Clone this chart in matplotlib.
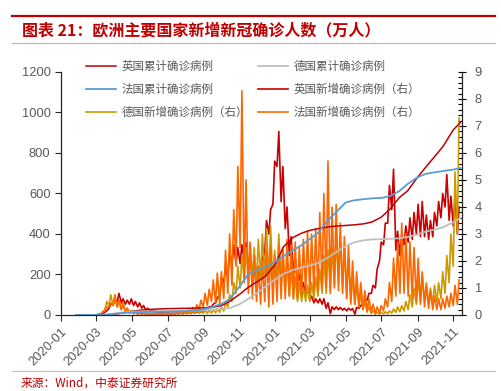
import numpy as np
import pandas as pd
import matplotlib
matplotlib.use("Agg")
import matplotlib.pyplot as plt
import matplotlib.dates as mdates
from matplotlib.lines import Line2D
from matplotlib.ticker import MultipleLocator

plt.rcParams['font.family'] = ['Liberation Sans', 'Noto Sans CJK SC', 'DejaVu Sans']

# 累计确诊（万人），左轴
cum_dates = ([pd.Timestamp('2020-01-27')]
             + list(pd.date_range('2020-02-01', '2021-11-01', freq='SMS'))
             + [pd.Timestamp('2021-11-13')])
uk_cum = [0, 0, 0.001, 0.003, 0.11, 2.9, 9.9, 17.8, 23.5, 27.6,
          29.6, 31.3, 32, 33, 34, 35, 38, 46, 67, 102,
          135, 164, 191, 250, 337, 384, 404, 418, 426, 435,
          439, 442, 445, 450, 459, 483, 520, 580, 613, 680,
          730, 785, 834, 914, 950]
de_cum = [0, 0.0008, 0.0016, 0.013, 0.5, 7.2, 13, 16.3, 17.4, 18.3,
          18.8, 19.5, 20.1, 21.1, 22.4, 24.5, 26.3, 29.2, 34.1, 53.2,
          78, 108, 140, 176, 203, 223, 235, 245, 256, 284,
          310, 340, 358, 369, 373, 374, 376, 379, 385, 397,
          412, 422, 434, 458, 478]
fr_cum = [0, 0.0006, 0.0012, 0.013, 0.45, 5.2, 10.3, 12.9, 14.0, 15.1,
          15.8, 16.5, 17.3, 18.8, 21.5, 28.5, 38.7, 55, 78, 141,
          198, 222, 238, 262, 291, 320, 345, 375, 405, 468,
          508, 555, 566, 572, 576, 578, 586, 612, 647, 680,
          697, 705, 711, 718, 726]

# 新增确诊（万人），右轴：每周一（低点）与周四（高点）
week_start = pd.date_range('2020-01-27', periods=94, freq='7D')
uk_new_lo = [0, 0, 0, 0, 0.001, 0.005, 0.03, 0.1, 0.25, 0.4,
             0.5, 0.45, 0.4, 0.4, 0.35, 0.3, 0.25, 0.18, 0.15, 0.1,
             0.09, 0.08, 0.06, 0.05, 0.05, 0.06, 0.06, 0.07, 0.08, 0.08,
             0.09, 0.14, 0.22, 0.3, 0.45, 0.7, 1.2, 1.5, 1.9, 1.9,
             1.9, 2.0, 1.7, 1.3, 1.2, 1.4, 2.3, 3.0, 4.1, 5.5,
             4.2, 3.2, 2.2, 1.6, 1.2, 0.95, 0.7, 0.55, 0.45, 0.45,
             0.4, 0.25, 0.05, 0.2, 0.2, 0.18, 0.15, 0.18, 0.03, 0.25,
             0.4, 0.55, 0.8, 1.0, 2.0, 2.6, 3.4, 3.9, 2.4, 2.2,
             2.6, 2.7, 2.8, 3.0, 2.9, 2.9, 2.8, 2.9, 3.3, 3.6,
             4.0, 3.5, 3.3, 3.0]
uk_new_hi = [0, 0, 0, 0, 0.002, 0.01, 0.05, 0.15, 0.4, 0.55,
             0.8, 0.6, 0.55, 0.6, 0.5, 0.45, 0.35, 0.25, 0.2, 0.15,
             0.12, 0.1, 0.08, 0.07, 0.07, 0.08, 0.08, 0.09, 0.1, 0.11,
             0.12, 0.2, 0.3, 0.4, 0.65, 1.4, 1.7, 2.3, 2.6, 2.5,
             2.6, 2.7, 2.3, 1.7, 1.7, 2.1, 3.5, 3.9, 5.7, 6.8,
             5.5, 4.0, 2.9, 2.1, 1.5, 1.2, 1.0, 0.7, 0.6, 0.6,
             0.6, 0.45, 0.3, 0.3, 0.28, 0.25, 0.25, 0.24, 0.28, 0.35,
             0.6, 0.8, 1.1, 1.7, 2.7, 3.4, 4.8, 5.4, 3.1, 3.0,
             3.3, 3.6, 3.8, 4.1, 4.2, 3.7, 3.5, 3.8, 4.2, 4.5,
             5.2, 4.4, 4.4, 4.0]
de_new_lo = [0, 0, 0, 0, 0, 0.01, 0.05, 0.2, 0.35, 0.35,
             0.3, 0.2, 0.12, 0.07, 0.05, 0.03, 0.03, 0.03, 0.03, 0.03,
             0.03, 0.03, 0.03, 0.03, 0.03, 0.03, 0.03, 0.04, 0.05, 0.06,
             0.07, 0.06, 0.06, 0.07, 0.08, 0.1, 0.15, 0.3, 0.5, 0.8,
             1.0, 1.3, 1.2, 1.3, 1.2, 1.3, 1.4, 1.2, 1.0, 1.2,
             1.2, 0.8, 0.7, 0.6, 0.5, 0.5, 0.5, 0.5, 0.6, 0.7,
             0.8, 0.8, 0.9, 1.1, 1.2, 1.0, 0.7, 0.5, 0.4, 0.3,
             0.2, 0.1, 0.06, 0.04, 0.04, 0.04, 0.05, 0.07, 0.1, 0.12,
             0.15, 0.2, 0.3, 0.4, 0.5, 0.5, 0.4, 0.4, 0.5, 0.6,
             0.8, 1.2, 1.8, 3.0]
de_new_hi = [0, 0, 0, 0, 0.005, 0.03, 0.12, 0.5, 0.75, 0.6,
             0.55, 0.35, 0.25, 0.15, 0.12, 0.08, 0.07, 0.06, 0.05, 0.05,
             0.06, 0.08, 0.05, 0.05, 0.06, 0.08, 0.09, 0.1, 0.15, 0.17,
             0.2, 0.18, 0.18, 0.2, 0.23, 0.28, 0.45, 0.75, 1.2, 1.8,
             2.2, 2.5, 2.6, 2.5, 2.8, 3.0, 3.2, 3.3, 2.4, 3.0,
             2.5, 2.0, 1.8, 1.4, 1.2, 1.0, 1.1, 1.2, 1.4, 1.7,
             2.2, 2.4, 2.5, 2.9, 2.9, 2.5, 2.1, 1.4, 1.1, 0.8,
             0.5, 0.3, 0.15, 0.1, 0.1, 0.12, 0.15, 0.22, 0.3, 0.35,
             0.5, 0.75, 1.0, 1.3, 1.4, 1.2, 1.0, 1.1, 1.2, 1.6,
             2.2, 3.0, 5.3, 7.3]
fr_new_lo = [0, 0, 0, 0, 0.002, 0.01, 0.04, 0.15, 0.3, 0.35,
             0.3, 0.2, 0.12, 0.08, 0.05, 0.03, 0.02, 0.02, 0.02, 0.02,
             0.02, 0.02, 0.02, 0.02, 0.03, 0.04, 0.05, 0.07, 0.1, 0.12,
             0.2, 0.3, 0.35, 0.5, 0.45, 0.4, 0.6, 0.8, 1.1, 1.8,
             2.5, 1.2, 0.8, 0.6, 0.5, 0.4, 0.5, 0.3, 0.4, 0.5,
             0.6, 0.6, 0.7, 0.6, 0.6, 0.7, 0.8, 0.8, 0.9, 0.9,
             1.0, 1.0, 0.8, 1.0, 0.9, 0.8, 0.6, 0.4, 0.4, 0.3,
             0.2, 0.15, 0.1, 0.05, 0.08, 0.15, 0.3, 0.5, 0.7, 0.8,
             0.8, 0.7, 0.6, 0.5, 0.4, 0.3, 0.25, 0.2, 0.2, 0.2,
             0.25, 0.3, 0.35, 0.4]
fr_new_hi = [0, 0, 0, 0, 0.003, 0.02, 0.1, 0.3, 0.45, 0.75,
             0.55, 0.45, 0.25, 0.15, 0.1, 0.08, 0.06, 0.05, 0.05, 0.05,
             0.05, 0.05, 0.06, 0.06, 0.08, 0.1, 0.15, 0.2, 0.28, 0.38,
             0.55, 0.8, 0.95, 1.3, 1.55, 1.6, 2.4, 3.0, 3.9, 5.5,
             8.3, 5.0, 2.7, 2.2, 1.8, 2.0, 2.4, 2.5, 2.2, 2.6,
             2.4, 2.8, 2.6, 2.7, 2.5, 2.8, 3.1, 3.0, 3.2, 3.8,
             4.5, 5.7, 4.0, 4.1, 3.4, 2.9, 2.6, 2.0, 1.6, 1.2,
             0.9, 0.6, 0.4, 0.3, 0.35, 0.6, 1.2, 2.1, 2.7, 3.4,
             3.0, 2.7, 2.5, 2.1, 1.6, 1.1, 0.9, 0.7, 0.6, 0.6,
             0.7, 0.8, 1.1, 1.3]

labels = ['英国累计确诊病例', '德国累计确诊病例', '法国累计确诊病例',
          '英国新增确诊病例（右）', '德国新增确诊病例（右）', '法国新增确诊病例（右）']


def twice_weekly(lo, hi):
    d = np.empty(2 * len(week_start), dtype='datetime64[ns]')
    d[0::2] = week_start.values
    d[1::2] = (week_start + pd.Timedelta(days=3)).values
    v = np.empty(2 * len(lo))
    v[0::2] = lo
    v[1::2] = hi
    return d, v


RED = '#C00000'
GRAY = '#595959'

fig = plt.figure(figsize=(5.01, 3.91), dpi=100)
ax = fig.add_axes([0.1218, 0.1944, 0.8004, 0.6215])
ax2 = ax.twinx()

d, v = twice_weekly(uk_new_lo, uk_new_hi)
l4, = ax2.plot(d, v, color='#CC0000', lw=1.2)
d, v = twice_weekly(de_new_lo, de_new_hi)
l5, = ax2.plot(d, v, color='#CC9900', lw=1.2)
d, v = twice_weekly(fr_new_lo, fr_new_hi)
l6, = ax2.plot(d, v, color='#FF6600', lw=1.2)

l1, = ax.plot(cum_dates, uk_cum, color='#C00000', lw=1.1)
l2, = ax.plot(cum_dates, de_cum, color='#BFBFBF', lw=1.3)
l3, = ax.plot(cum_dates, fr_cum, color='#5B9BD5', lw=1.3)

ax.set_zorder(ax2.get_zorder() + 1)
ax.patch.set_visible(False)

ax.set_xlim(pd.Timestamp('2020-01-01'), pd.Timestamp('2021-11-16'))
ax.set_ylim(0, 1200)
ax2.set_ylim(0, 9)
ax.yaxis.set_major_locator(MultipleLocator(200))
ax2.yaxis.set_major_locator(MultipleLocator(1))
ax2.yaxis.set_minor_locator(MultipleLocator(0.2))
ax.xaxis.set_major_locator(mdates.MonthLocator(bymonth=[1, 3, 5, 7, 9, 11]))
ax.xaxis.set_major_formatter(mdates.DateFormatter('%Y-%m'))

for s in ['top', 'right']:
    ax.spines[s].set_visible(False)
for s in ['top', 'left', 'bottom']:
    ax2.spines[s].set_visible(False)
for s in [ax.spines['left'], ax.spines['bottom'], ax2.spines['right']]:
    s.set_color('#262626')
    s.set_linewidth(0.9)

ax.tick_params(axis='both', labelsize=9.3, labelcolor=GRAY, color='#262626',
               length=4, width=0.8)
ax2.tick_params(axis='y', which='major', labelsize=9.3, labelcolor=GRAY,
                direction='inout', length=6, width=0.8, pad=6)
ax2.tick_params(axis='y', which='minor', direction='in', length=3, width=0.8)
plt.setp(ax.get_xticklabels(), rotation=45, ha='right', rotation_mode='anchor')

leg = fig.legend([l1, l3, l5, l2, l4, l6],
                 [labels[0], labels[2], labels[4], labels[1], labels[3], labels[5]],
                 ncol=2, loc='upper left', bbox_to_anchor=(0.172, 0.846),
                 frameon=False, prop={'family': 'Noto Sans CJK SC', 'size': 8.3},
                 handlelength=2.6, handletextpad=0.45, columnspacing=0.9,
                 labelspacing=0.85, borderpad=0, borderaxespad=0)
for t in leg.get_texts():
    t.set_color(GRAY)

# 标题与来源
fig.add_artist(Line2D([0.024, 0.988], [0.959, 0.959], transform=fig.transFigure,
                      color=RED, lw=1.6))
fig.add_artist(Line2D([0.024, 0.988], [0.890, 0.890], transform=fig.transFigure,
                      color='#E8A0A0', lw=0.8))
fig.add_artist(Line2D([0.024, 0.988], [0.051, 0.051], transform=fig.transFigure,
                      color='#EBA9A9', lw=0.8))
fig.text(0.044, 0.922, '图表 21：欧洲主要国家新增新冠确诊人数（万人）', color=RED,
         fontsize=11.5, fontweight='bold', va='center',
         family=['Noto Sans CJK SC', 'DejaVu Sans'])
fig.text(0.042, 0.020, '来源：Wind，中泰证券研究所', color=RED, fontsize=8.5,
         va='center', family=['Noto Sans CJK SC', 'DejaVu Sans'])

fig.savefig('out.png', dpi=100)
